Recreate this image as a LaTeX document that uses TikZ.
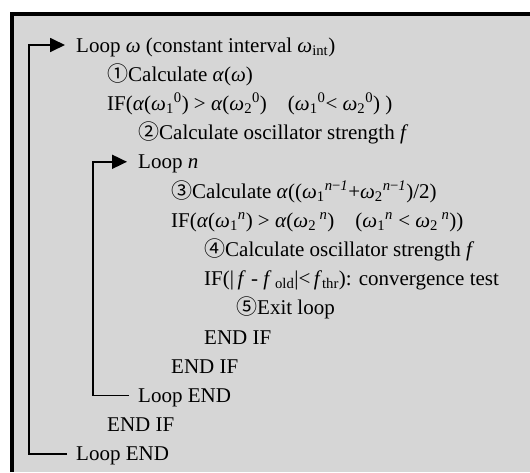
\documentclass[tikz,border=0pt]{standalone}
\usepackage{fontspec}
\setmainfont{Liberation Serif}
\newfontfamily\cjk{Noto Sans CJK JP}
\usetikzlibrary{arrows.meta}
\definecolor{panelgray}{RGB}{214,214,214}
\newcommand{\circnum}[1]{{\cjk #1}}
\newcommand{\gom}{\textit{ω}}
\newcommand{\gal}{\textit{α}}
\newcommand{\sbsp}[2]{\textsubscript{#1}\textsuperscript{#2}}

\begin{document}
\begin{tikzpicture}[x=1pt,y=-1pt,
  txt/.style={anchor=west,inner sep=0pt,text height=15pt,text depth=1pt,font=\fontsize{21}{25}\selectfont},
  loopback/.style={line width=1.8pt,-{Triangle[length=15pt,width=14pt]},shorten <=9pt,shorten >=11pt}]
  \useasboundingbox (0,0) rectangle (530,472);
  \fill[panelgray] (12,14) rectangle (530,472);
  \draw[line width=4pt] (12,472) -- (12,14) -- (530,14);
  % outer loop
  \node[txt] (loopw) at (76,45) {Loop \gom{} (constant interval \gom\textsubscript{int})};
  \node[txt] (calcalpha) at (107,74.2) {\circnum{①}Calculate \gal(\gom)};
  \node[txt] (ifw) at (107,103.4) {IF(\gal(\gom\sbsp{1}{0}) > \gal(\gom\sbsp{2}{0})\quad(\gom\sbsp{1}{0}< \gom\sbsp{2}{0}) )};
  \node[txt] (calcf) at (138,132.6) {\circnum{②}Calculate oscillator strength \textit{f}};
  % inner loop
  \node[txt] (loopn) at (138,161.8) {Loop \textit{n}};
  \node[txt] (calcmid) at (171,191) {\circnum{③}Calculate \gal((\gom\sbsp{1}{\textit{n}−\textit{1}}+\gom\sbsp{2}{\textit{n}−\textit{1}})/2)};
  \node[txt] (ifn) at (171,220.2) {IF(\gal(\gom\sbsp{1}{\textit{n}}) > \gal(\gom\textsubscript{2}\,\textsuperscript{\textit{n}})\quad(\gom\sbsp{1}{\textit{n}} < \gom\textsubscript{2}\,\textsuperscript{\textit{n}}))};
  \node[txt] (calcfn) at (204,249.4) {\circnum{④}Calculate oscillator strength \textit{f}};
  \node[txt] (ifconv) at (204,278.6) {IF(|\,\textit{f} - \textit{f}\,\textsubscript{old}|<\,\textit{f}\textsubscript{thr}): convergence test};
  \node[txt] (exitloop) at (236,307.8) {\circnum{⑤}Exit loop};
  \node[txt] (endifconv) at (204,337) {END IF};
  \node[txt] (endifn) at (171,366.2) {END IF};
  \node[txt] (endn) at (138,395.4) {Loop END};
  \node[txt] (endifw) at (107,424.6) {END IF};
  \node[txt] (endw) at (76,453.8) {Loop END};
  \draw[loopback] (endn.west) -- ++(-45,0) |- (loopn.west);
  \draw[loopback] (endw.west) -- ++(-47,0) |- (loopw.west);
\end{tikzpicture}
\end{document}
